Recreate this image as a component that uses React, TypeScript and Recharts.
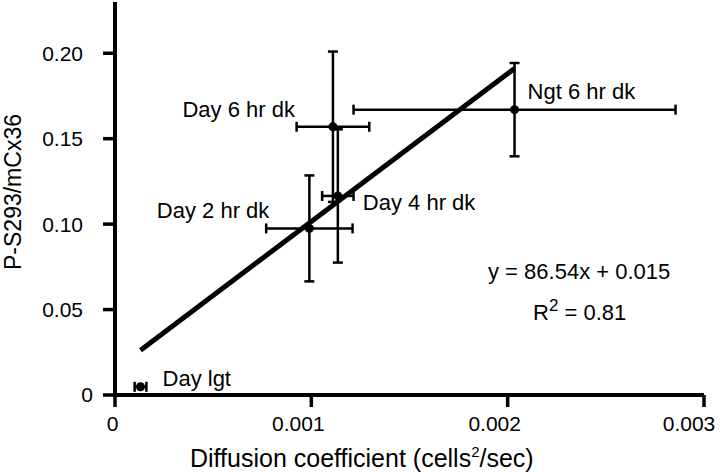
import { ScatterChart, Scatter, XAxis, YAxis, ErrorBar, Customized } from 'recharts';

const pointNames = ['Day lgt', 'Day 2 hr dk', 'Day 4 hr dk', 'Day 6 hr dk', 'Ngt 6 hr dk'];
const diffusion = [0.00013, 0.00099, 0.001135, 0.00111, 0.002035];
const diffusionErr = [0.00003, 0.00022, 0.00008, 0.000185, 0.00082];
const phospho = [0.0048, 0.0975, 0.1165, 0.157, 0.167];
const phosphoErr = [0, 0.031, 0.039, 0.044, 0.0273];

const slope = 86.54;
const intercept = 0.015;
const rSquared = 0.81;

const xTicks = [0, 0.001, 0.002, 0.003];
const xTickLabels = ['0', '0.001', '0.002', '0.003'];
const yTicks = [0, 0.05, 0.1, 0.15, 0.2];
const yTickLabels = ['0', '0.05', '0.10', '0.15', '0.20'];

const FONT = '"Liberation Sans", Arial, Helvetica, sans-serif';

// where each point's name sits relative to the dot
const labelPos: Record<string, { dx: number; dy: number; anchor: 'start' | 'end' }> = {
  'Day lgt': { dx: 22, dy: -1, anchor: 'start' },
  'Day 2 hr dk': { dx: -40, dy: -10, anchor: 'end' },
  'Day 4 hr dk': { dx: 25, dy: 14, anchor: 'start' },
  'Day 6 hr dk': { dx: -38, dy: -10, anchor: 'end' },
  'Ngt 6 hr dk': { dx: 13, dy: -11, anchor: 'start' },
};

const points = pointNames.map((name, i) => ({
  name,
  x: diffusion[i],
  y: phospho[i],
  xErr: diffusionErr[i],
  yErr: phosphoErr[i],
}));

const xMin = Math.min(...diffusion);
const xMax = Math.max(...diffusion);
const fitLine = [
  { x: xMin, y: slope * xMin + intercept },
  { x: xMax, y: slope * xMax + intercept },
];

function PointShape(props: any) {
  const { cx, cy, payload } = props;
  const pos = labelPos[payload.name];
  return (
    <g>
      <circle cx={cx} cy={cy} r={4.5} fill="#000" />
      <text
        x={cx + pos.dx}
        y={cy + pos.dy}
        textAnchor={pos.anchor}
        fontFamily={FONT}
        fontSize={22}
        fill="#000"
      >
        {payload.name}
      </text>
    </g>
  );
}

// the original's x labels sit a bit left of their ticks
function XTick(props: any) {
  const { x, y, payload } = props;
  const i = xTicks.indexOf(payload.value);
  const label = xTickLabels[i] ?? String(payload.value);
  const shift = payload.value === 0 ? -2.5 : -13;
  return (
    <text x={x + shift} y={y} dy="0.71em" textAnchor="middle" fontFamily={FONT} fontSize={21} fill="#000">
      {label}
    </text>
  );
}

function YTick(props: any) {
  const { x, y, payload } = props;
  const i = yTicks.indexOf(payload.value);
  const label = yTickLabels[i] ?? String(payload.value);
  const shift = payload.value === 0 ? 10 : 0;
  return (
    <text x={x + shift} y={y} dy="0.355em" textAnchor="end" fontFamily={FONT} fontSize={21} fill="#000">
      {label}
    </text>
  );
}

function Annotations() {
  return (
    <g fontFamily={FONT} fill="#000">
      <text x={488} y={279} fontSize={22}>
        {`y = ${slope}x + ${intercept}`}
      </text>
      <text x={533} y={320} fontSize={22}>
        R<tspan fontSize={17} dy={-9}>2</tspan>
        <tspan dy={9}>{` = ${rSquared}`}</tspan>
      </text>
      <text x={190} y={467} fontSize={25}>
        Diffusion coefficient (cells<tspan fontSize={15} dy={-10}>2</tspan>
        <tspan dy={10}>/sec)</tspan>
      </text>
      <text x={21} y={192} fontSize={23} textAnchor="middle" transform="rotate(-90 21 192)">
        P-S293/mCx36
      </text>
    </g>
  );
}

export default function App() {
  return (
    <div style={{ position: 'absolute', left: 0, top: 0, width: 720, height: 472, background: '#fff' }}>
      <ScatterChart width={720} height={472} margin={{ top: 2, right: 16, bottom: 0, left: 0 }}>
        <XAxis
          type="number"
          dataKey="x"
          domain={[0, 0.003]}
          ticks={xTicks}
          allowDataOverflow
          height={77}
          axisLine={{ stroke: '#000', strokeWidth: 4 }}
          tickLine={{ stroke: '#000', strokeWidth: 3.5 }}
          tickSize={12}
          tickMargin={9}
          tick={<XTick />}
        />
        <YAxis
          type="number"
          dataKey="y"
          domain={[0, 0.23]}
          ticks={yTicks}
          allowDataOverflow
          width={115}
          axisLine={{ stroke: '#000', strokeWidth: 4 }}
          tickLine={{ stroke: '#000', strokeWidth: 3.5 }}
          tickSize={12}
          tickMargin={20}
          tick={<YTick />}
        />
        <Scatter
          data={fitLine}
          line={{ stroke: '#000', strokeWidth: 5 }}
          shape={() => <g />}
          isAnimationActive={false}
        />
        <Scatter data={points} shape={PointShape} isAnimationActive={false}>
          <ErrorBar dataKey="xErr" direction="x" stroke="#000" strokeWidth={2.5} width={5} isAnimationActive={false} />
          <ErrorBar dataKey="yErr" direction="y" stroke="#000" strokeWidth={2.5} width={5} isAnimationActive={false} />
        </Scatter>
        <Customized component={Annotations} />
      </ScatterChart>
    </div>
  );
}
